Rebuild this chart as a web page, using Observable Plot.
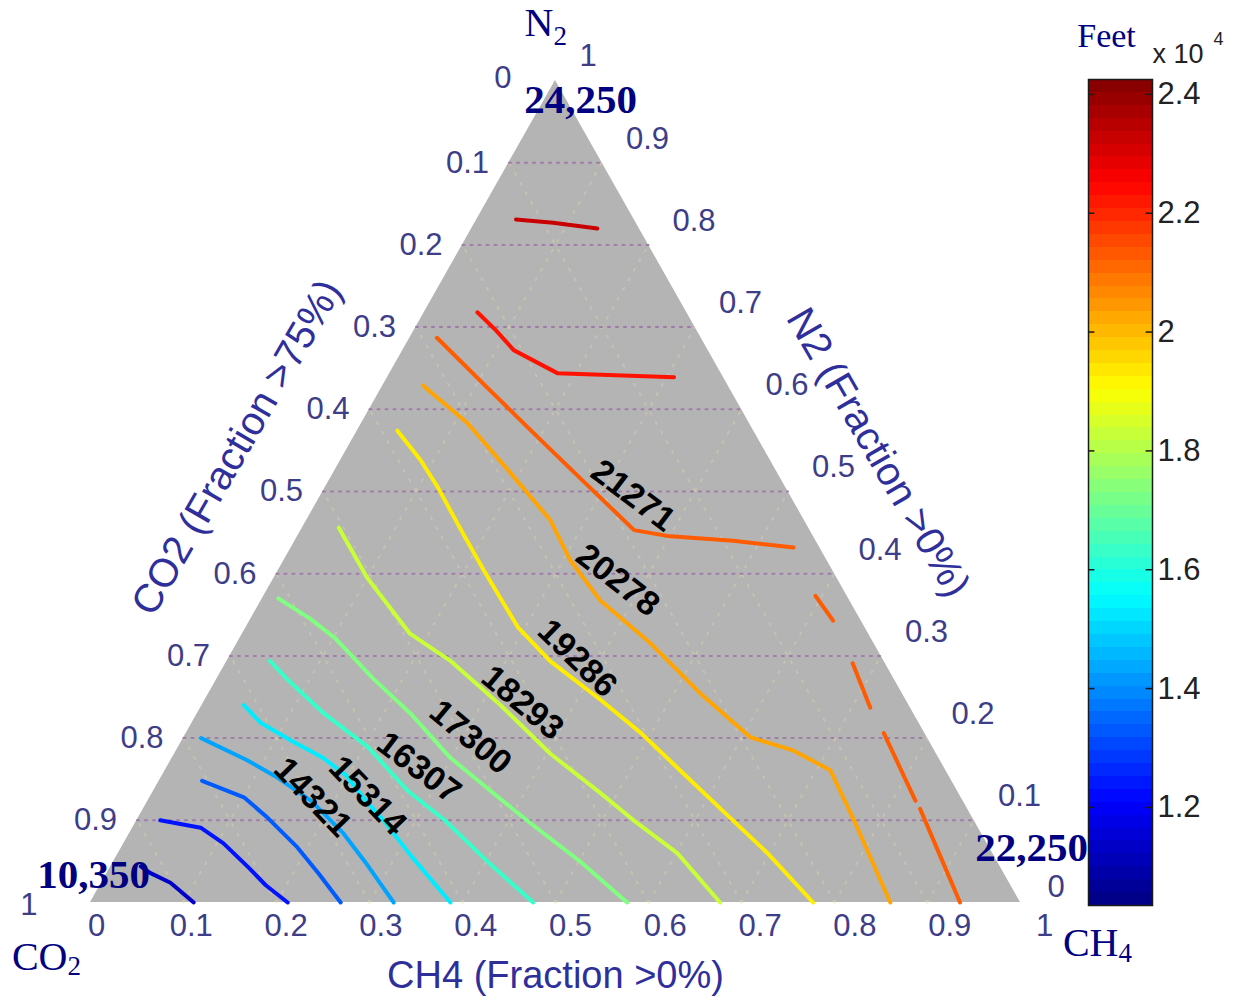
<!DOCTYPE html>
<html>
<head>
<meta charset="utf-8">
<script src="https://cdn.jsdelivr.net/npm/d3@7"></script>
<script src="https://cdn.jsdelivr.net/npm/@observablehq/plot@0.6"></script>
<style>
  body { margin: 0; background: #fff; }
  #chart { position: relative; width: 1233px; height: 1003px; }
  #chart svg { position: absolute; left: 0; top: 0; }
</style>
</head>
<body>
<div id="chart"></div>
<script>
// ---- Depth range (feet) and corner values ----
const depthMin = 10350;
const depthMax = 24250;
const cornerN2 = 24250;
const cornerCO2 = 10350;
const cornerCH4 = 22250;

// ---- Tick values ----
const fractionTicks = [0, 0.1, 0.2, 0.3, 0.4, 0.5, 0.6, 0.7, 0.8, 0.9, 1];
const gridFractions = [0.1, 0.2, 0.3, 0.4, 0.5, 0.6, 0.7, 0.8, 0.9];
const colorbarTicks = [12000, 14000, 16000, 18000, 20000, 22000, 24000];

// ---- Contour paths, points as [CH4 fraction, N2 fraction] ----
const contour11343 = [[0.032,0.044],[0.046,0.036],[0.074,0.024],[0.111,0]];
const contour12336 = [[0.025,0.100],[0.073,0.091],[0.107,0.072],[0.148,0.043],[0.178,0.021],[0.212,0]];
const contour13328 = [[0.046,0.148],[0.101,0.128],[0.139,0.103],[0.189,0.067],[0.228,0.035],[0.269,0]];
const contour14321 = [[0.019,0.200],[0.082,0.173],[0.125,0.152],[0.175,0.124],[0.230,0.084],[0.271,0.049],[0.326,0]];
const contour15314 = [[0.045,0.240],[0.073,0.219],[0.117,0.197],[0.162,0.176],[0.197,0.155],[0.234,0.124],[0.265,0.100],[0.316,0.057],[0.387,0]];
const contour16307 = [[0.046,0.294],[0.078,0.270],[0.136,0.230],[0.204,0.189],[0.273,0.136],[0.331,0.100],[0.406,0.047],[0.476,0]];
const contour17300 = [[0.017,0.370],[0.064,0.345],[0.103,0.321],[0.167,0.273],[0.229,0.230],[0.299,0.176],[0.362,0.136],[0.424,0.097],[0.503,0.049],[0.577,0]];
const contour18293 = [[0.039,0.456],[0.100,0.395],[0.180,0.327],[0.240,0.294],[0.321,0.240],[0.404,0.181],[0.482,0.133],[0.534,0.100],[0.601,0.060],[0.677,0]];
const contour19286 = [[0.043,0.574],[0.086,0.538],[0.121,0.505],[0.172,0.453],[0.221,0.404],[0.292,0.335],[0.347,0.294],[0.426,0.246],[0.489,0.206],[0.559,0.157],[0.632,0.106],[0.698,0.060],[0.777,0]];
const contour20278 = [[0.043,0.629],[0.114,0.583],[0.191,0.522],[0.262,0.465],[0.308,0.416],[0.365,0.367],[0.445,0.315],[0.529,0.254],[0.609,0.201],[0.663,0.185],[0.715,0.161],[0.771,0.100],[0.860,0]];
const contour21271 = [[0.029,0.687],[0.107,0.631],[0.191,0.571],[0.273,0.513],[0.358,0.453],[0.397,0.446],[0.471,0.440],[0.540,0.432]];
const contour21271b = [[0.593,0.373],[0.627,0.343]];
const contour21271c = [[0.674,0.291],[0.720,0.237]];
const contour21271d = [[0.750,0.206],[0.825,0.124]];
const contour21271e = [[0.835,0.114],[0.885,0.057],[0.935,0]];
const contour22264 = [[0.057,0.718],[0.088,0.696],[0.119,0.672],[0.180,0.644],[0.308,0.639]];
const contour23257 = [[0.042,0.831],[0.084,0.827],[0.135,0.820]];

// ---- Labelled contour levels and where their labels sit [CH4, N2] ----
const labelledLevels = [14321, 15314, 16307, 17300, 18293, 19286, 20278, 21271];
const labelSpots = [[0.175,0.128],[0.233,0.130],[0.271,0.164],[0.308,0.201],[0.343,0.243],[0.375,0.297],[0.371,0.392],[0.336,0.495]];

// ---------------------------------------------------------------
const contourPaths = [
  [11343, contour11343], [12336, contour12336], [13328, contour13328],
  [14321, contour14321], [15314, contour15314], [16307, contour16307],
  [17300, contour17300], [18293, contour18293], [19286, contour19286],
  [20278, contour20278], [21271, contour21271], [21271, contour21271b],
  [21271, contour21271c], [21271, contour21271d], [21271, contour21271e],
  [22264, contour22264], [23257, contour23257]
];
const contourRows = contourPaths.flatMap(([level, pts], i) =>
  pts.map(([ch4, n2]) => ({path: i, level, ch4, n2})));

const labelAngles = [46, 46, 37, 40, 40, 44, 38, 37];
const labelRows = labelledLevels.map((level, i) =>
  ({level, ch4: labelSpots[i][0], n2: labelSpots[i][1], angle: labelAngles[i]}));

// Jet colormap over the depth range
const jetColors = ["#000080","#0000ff","#0080ff","#00ffff","#80ff80","#ffff00","#ff8000","#ff0000","#800000"];
const jetStops = jetColors.map((_, i) => depthMin + i * (depthMax - depthMin) / (jetColors.length - 1));
const jet = {type: "linear", domain: jetStops, range: jetColors, interpolate: "rgb"};

// Ternary -> cartesian (CO2 bottom-left, CH4 bottom-right, N2 top)
const X = d => d.ch4 + d.n2 / 2;
const Y = d => d.n2;

const sans = "'Liberation Sans', Arial, Helvetica, sans-serif";
const serif = "'Liberation Serif', 'Times New Roman', serif";
const tickInk = "#3d3d88";
const titleInk = "#2f2f9c";
const navy = "#000080";
const fmt = d3.format("~g");
const thousands = d3.format(",");

const triangle = [{ch4: 0, n2: 0}, {ch4: 0, n2: 1}, {ch4: 1, n2: 0}];

const levelGrid = gridFractions.flatMap((g, i) => [
  {id: i, ch4: 0, n2: g}, {id: i, ch4: 1 - g, n2: g}
]);
const faintGrid = gridFractions.flatMap((g, i) => [
  {id: "a" + i, ch4: g, n2: 0}, {id: "a" + i, ch4: g, n2: 1 - g},
  {id: "b" + i, ch4: 1 - g, n2: 0}, {id: "b" + i, ch4: 0, n2: 1 - g}
]);

const tickFont = {fontSize: 31, fontFamily: sans, fill: tickInk};

// CH4 tick labels spread slightly wider than the base edge
const bottomTicks = fractionTicks.map(v =>
  Plot.text([v], {x: d => d, y: () => 0, text: fmt, dx: 6 + 18 * v, dy: 24, ...tickFont}));

const W = 1233, H = 1003;

const main = Plot.plot({
  width: W, height: H,
  marginLeft: 90, marginRight: W - 1020, marginTop: 80, marginBottom: H - 902,
  x: {domain: [0, 1], axis: null},
  y: {domain: [0, 1], axis: null},
  color: jet,
  style: {background: "transparent", overflow: "visible"},
  marks: [
    Plot.areaY(triangle, {x: X, y: Y, fill: "#b4b4b4"}),
    Plot.line(faintGrid, {x: X, y: Y, z: "id", stroke: "#e4dca6", strokeOpacity: 0.35, strokeWidth: 2, strokeDasharray: "2 9"}),
    Plot.line(levelGrid, {x: X, y: Y, z: "id", stroke: "#a07aa8", strokeWidth: 2, strokeDasharray: "2 6"}),
    Plot.line(contourRows, {x: X, y: Y, z: "path", stroke: "level", strokeWidth: 4,
      strokeLinejoin: "round", strokeLinecap: "round"}),
    Plot.text(labelRows, {x: X, y: Y, text: d => String(d.level), rotate: "angle",
      fontSize: 34, fontWeight: "bold", fontFamily: sans, fill: "#000"}),

    // CH4 axis (bottom)
    ...bottomTicks,
    // N2 axis (right)
    Plot.text(fractionTicks.filter(v => v > 0), {x: v => 1 - v / 2, y: v => v, text: fmt, textAnchor: "start", dx: 24, dy: -24, ...tickFont}),
    Plot.text([0], {x: v => 1 - v / 2, y: v => v, text: fmt, textAnchor: "start", dx: 27, dy: -15, ...tickFont}),
    // CO2 axis (left)
    Plot.text(fractionTicks.filter(v => v > 0 && v < 1), {x: v => (1 - v) / 2, y: v => 1 - v, text: fmt,
      textAnchor: "end", dx: -20, ...tickFont}),
    Plot.text([0], {x: v => (1 - v) / 2, y: v => 1 - v, text: fmt, textAnchor: "end", dx: -44, dy: -2, ...tickFont}),
    Plot.text([1], {x: v => (1 - v) / 2, y: v => 1 - v, text: fmt, textAnchor: "end", dx: -53, dy: 3, ...tickFont}),

    // Axis titles
    Plot.text(["CH4 (Fraction >0%)"], {x: () => 0.5, y: () => 0, text: d => d, dy: 73,
      fontSize: 38, fontFamily: sans, fill: titleInk}),
    Plot.text(["CO2 (Fraction >75%)"], {x: () => 0.25, y: () => 0.5, text: d => d, dx: -86, dy: -44, rotate: -60,
      fontSize: 40, fontFamily: sans, fill: titleInk}),
    Plot.text(["N2 (Fraction >0%)"], {x: () => 0.75, y: () => 0.5, text: d => d, dx: 90, dy: -39, rotate: 60,
      fontSize: 40, fontFamily: sans, fill: titleInk}),

    // Corner depths
    Plot.text([cornerN2], {x: () => 0.5, y: () => 1, text: thousands, dx: 25, dy: 19,
      fontSize: 41, fontWeight: "bold", fontFamily: serif, fill: navy}),
    Plot.text([cornerCO2], {x: () => 0, y: () => 0, text: thousands, dx: 3, dy: -28,
      fontSize: 41, fontWeight: "bold", fontFamily: serif, fill: navy}),
    Plot.text([cornerCH4], {x: () => 1, y: () => 0, text: thousands, dx: 11, dy: -55,
      fontSize: 41, fontWeight: "bold", fontFamily: serif, fill: navy}),

    // Vertex names with subscripts
    Plot.text(["N"], {x: () => 0.5, y: () => 1, text: d => d, textAnchor: "end", dx: -2, dy: -57,
      fontSize: 40, fontFamily: serif, fill: navy}),
    Plot.text(["2"], {x: () => 0.5, y: () => 1, text: d => d, textAnchor: "start", dx: -2, dy: -44,
      fontSize: 27, fontFamily: serif, fill: navy}),
    Plot.text(["CO"], {x: () => 0, y: () => 0, text: d => d, textAnchor: "end", dx: -23, dy: 55,
      fontSize: 40, fontFamily: serif, fill: navy}),
    Plot.text(["2"], {x: () => 0, y: () => 0, text: d => d, textAnchor: "start", dx: -23, dy: 64,
      fontSize: 27, fontFamily: serif, fill: navy}),
    Plot.text(["CH"], {x: () => 1, y: () => 0, text: d => d, textAnchor: "end", dx: 98, dy: 41,
      fontSize: 40, fontFamily: serif, fill: navy}),
    Plot.text(["4"], {x: () => 1, y: () => 0, text: d => d, textAnchor: "start", dx: 98, dy: 51,
      fontSize: 27, fontFamily: serif, fill: navy})
  ]
});

// ---- Colorbar ----
const nBands = 64;
const bandStep = (depthMax - depthMin) / nBands;
const bands = d3.range(nBands).map(i => ({lo: depthMin + i * bandStep, hi: depthMin + (i + 1) * bandStep}));

const colorbar = Plot.plot({
  width: W, height: H,
  marginLeft: 1088, marginRight: W - 1152, marginTop: 79, marginBottom: H - 905,
  x: {domain: [0, 1], axis: null},
  y: {domain: [depthMin, depthMax], axis: null},
  color: jet,
  style: {background: "transparent", overflow: "visible"},
  marks: [
    Plot.rect(bands, {x1: () => 0, x2: () => 1, y1: "lo", y2: "hi", fill: d => (d.lo + d.hi) / 2,
      shapeRendering: "crispEdges"}),
    Plot.ruleY(colorbarTicks, {y: d => d, x1: () => 0, x2: () => 0.1, stroke: "#1a1a1a", strokeWidth: 1.5}),
    Plot.ruleY(colorbarTicks, {y: d => d, x1: () => 0.9, x2: () => 1, stroke: "#1a1a1a", strokeWidth: 1.5}),
    Plot.frame({stroke: "#1a1a1a", strokeWidth: 1.5}),
    Plot.text(colorbarTicks, {y: d => d, x: () => 1, text: d => fmt(d / 1e4), textAnchor: "start", dx: 5,
      fontSize: 31, fontFamily: sans, fill: "#222"}),
    Plot.text(["x 10"], {frameAnchor: "top-right", text: d => d, textAnchor: "start", lineAnchor: "middle",
      dx: 0, dy: -25, fontSize: 27, fontFamily: sans, fill: "#222"}),
    Plot.text(["4"], {frameAnchor: "top-right", text: d => d, textAnchor: "start", lineAnchor: "middle",
      dx: 61, dy: -40, fontSize: 18, fontFamily: sans, fill: "#222"}),
    Plot.text(["Feet"], {frameAnchor: "top-left", text: d => d, textAnchor: "middle", lineAnchor: "middle",
      dx: 18, dy: -43, fontSize: 34, fontFamily: serif, fill: navy})
  ]
});

const chart = document.getElementById("chart");
chart.appendChild(main);
chart.appendChild(colorbar);
</script>
</body>
</html>
